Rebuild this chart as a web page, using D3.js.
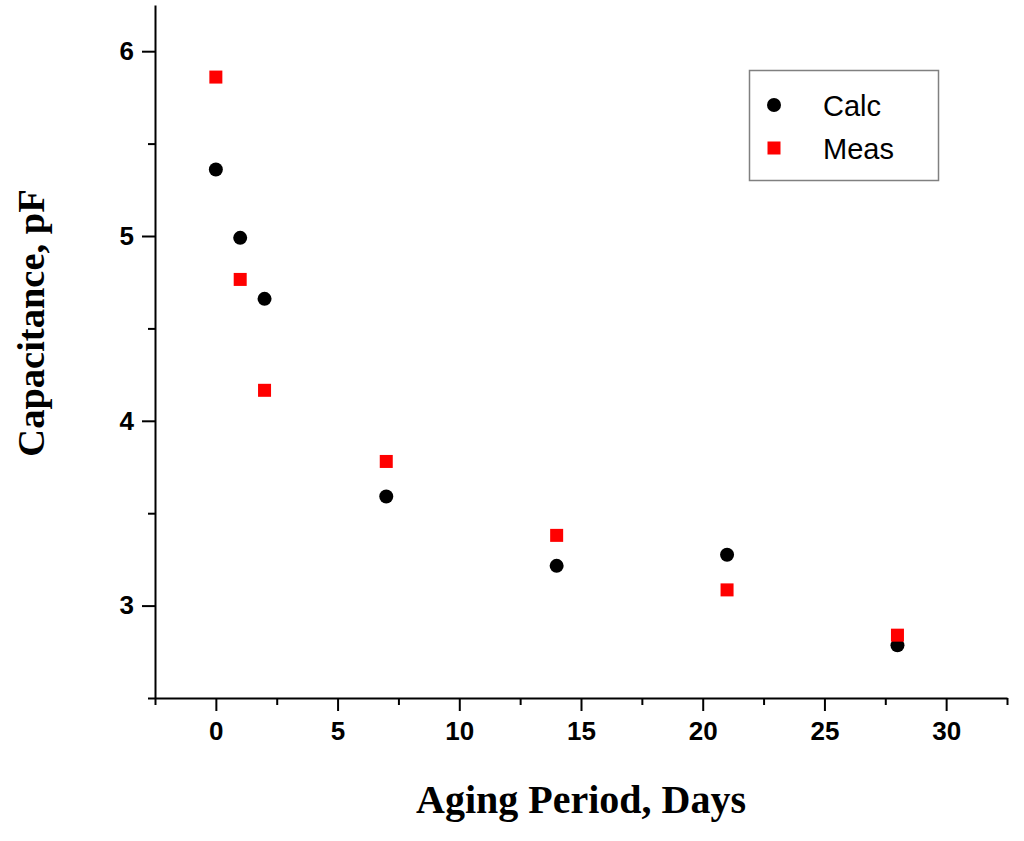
<!DOCTYPE html>
<html>
<head>
<meta charset="utf-8">
<script src="https://cdn.jsdelivr.net/npm/d3@7"></script>
<style>
  body { margin: 0; background: #fff; }
  .tick text { font-family: "Liberation Sans", Arial, sans-serif; font-weight: bold; font-size: 26px; fill: #000; }
  .axis path, .axis line { stroke: #000; stroke-width: 2px; }
  .axis-title { font-family: "Liberation Serif", "Times New Roman", serif; font-weight: bold; }
  .legend text { font-family: "Liberation Sans", Arial, sans-serif; font-size: 29px; }
</style>
</head>
<body>
<div id="chart"></div>
<script>
const width = 1024, height = 841;
const margin = ({top: 5, right: 17, bottom: 143, left: 155});

// aging period (days) and capacitance (pF)
const days = [0, 1, 2, 7, 14, 21, 28];
const calc = [5.36, 4.99, 4.66, 3.59, 3.215, 3.275, 2.785];
const meas = [5.86, 4.765, 4.165, 3.78, 3.38, 3.085, 2.84];

const xMajor = [0, 5, 10, 15, 20, 25, 30];
const xMinor = [-2.5, 2.5, 7.5, 12.5, 17.5, 22.5, 27.5, 32.5];
const yMajor = [3, 4, 5, 6];
const yMinor = [2.5, 3.5, 4.5, 5.5];

const series = [
  {name: "Calc", values: calc, shape: "circle", color: "#000"},
  {name: "Meas", values: meas, shape: "square", color: "#ff0000"}
];

var svg = d3.select("#chart").append("svg")
  .attr("width", width)
  .attr("height", height);

var x = d3.scaleLinear()
  .domain([-2.5, 32.5])
  .range([margin.left, width - margin.right]);

var y = d3.scaleLinear()
  .domain([2.5, 6.25])
  .range([height - margin.bottom, margin.top]);

var fmt = d3.format("d");

// minor ticks first, then major ticks with labels
svg.append("g")
  .attr("class", "axis")
  .attr("transform", "translate(0," + y(2.5) + ")")
  .call(d3.axisBottom(x).tickValues(xMinor).tickSize(7).tickSizeOuter(0).tickFormat(""));

svg.append("g")
  .attr("class", "axis")
  .attr("transform", "translate(0," + y(2.5) + ")")
  .call(d3.axisBottom(x).tickValues(xMajor).tickSize(13).tickSizeOuter(0).tickPadding(11).tickFormat(fmt))
  .select(".domain").remove();

svg.append("g")
  .attr("class", "axis")
  .attr("transform", "translate(" + x(-2.5) + ",0)")
  .call(d3.axisLeft(y).tickValues(yMinor).tickSize(7).tickSizeOuter(0).tickFormat(""));

svg.append("g")
  .attr("class", "axis")
  .attr("transform", "translate(" + x(-2.5) + ",0)")
  .call(d3.axisLeft(y).tickValues(yMajor).tickSize(13).tickSizeOuter(0).tickPadding(8).tickFormat(fmt))
  .select(".domain").remove();

// axis titles
svg.append("text")
  .attr("class", "axis-title")
  .attr("x", 581)
  .attr("y", 813)
  .attr("text-anchor", "middle")
  .style("font-size", "40px")
  .text("Aging Period, Days");

svg.append("text")
  .attr("class", "axis-title")
  .attr("transform", "translate(44,323)rotate(-90)")
  .attr("text-anchor", "middle")
  .style("font-size", "38.5px")
  .text("Capacitance, pF");

// points
function drawMarker(g, shape, color, cx, cy) {
  if (shape === "circle") {
    g.append("circle").attr("cx", cx).attr("cy", cy).attr("r", 7).attr("fill", color);
  } else {
    g.append("rect").attr("x", cx - 6.5).attr("y", cy - 6.5)
      .attr("width", 13).attr("height", 13).attr("fill", color);
  }
}

series.forEach(s => {
  var g = svg.append("g").attr("class", "series-" + s.name);
  s.values.forEach((v, i) => drawMarker(g, s.shape, s.color, x(days[i]), y(v)));
});

// legend
var legend = svg.append("g").attr("class", "legend");

legend.append("rect")
  .attr("x", 749.5).attr("y", 70.5)
  .attr("width", 189).attr("height", 110)
  .attr("fill", "#fff")
  .attr("stroke", "#808080")
  .attr("stroke-width", 1.5);

series.forEach((s, i) => {
  var ly = 105 + i * 43;
  drawMarker(legend, s.shape, s.color, 774, ly);
  legend.append("text")
    .attr("x", 823)
    .attr("y", ly + 11)
    .text(s.name);
});
</script>
</body>
</html>
